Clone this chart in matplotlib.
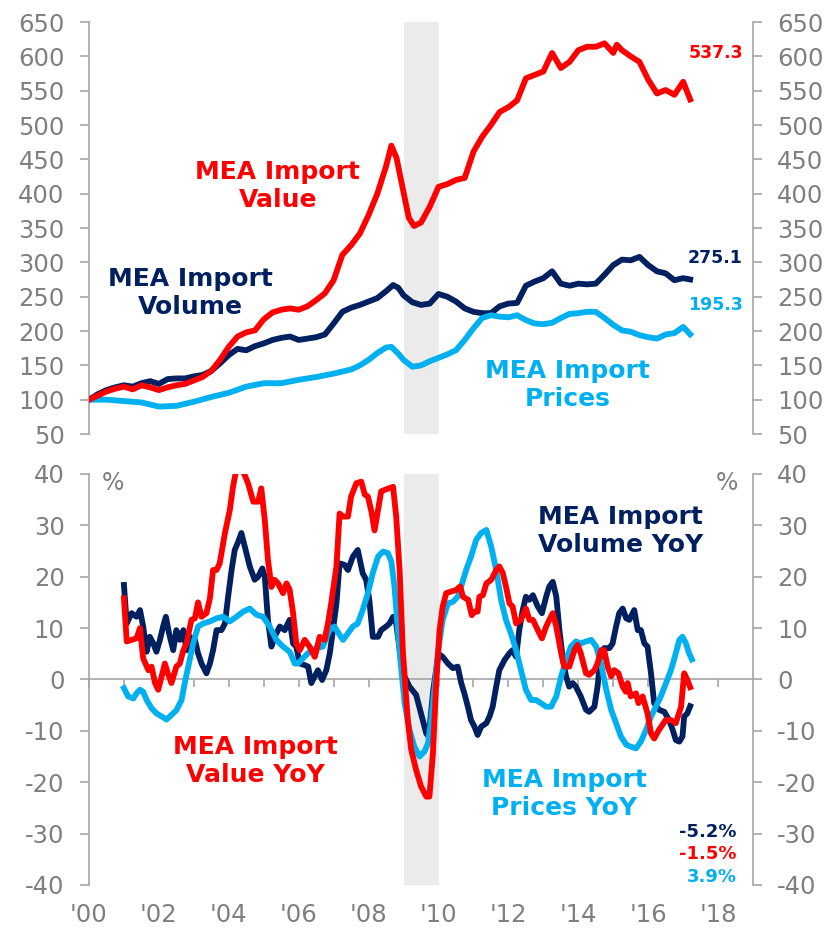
import matplotlib
matplotlib.use("Agg")
import matplotlib.pyplot as plt

plt.rcParams["axes.unicode_minus"] = False

RED = "#FF0000"
NAVY = "#002060"
SKY = "#00B0F0"
GREY = "#7F7F7F"
LINE_GREY = "#A6A6A6"

# index levels (2000 = 100)
t_value = [2000.0, 2000.25, 2000.5, 2000.75, 2001.0, 2001.25, 2001.5, 2001.75, 2002.0, 2002.25,
           2002.5, 2002.75, 2003.0, 2003.25, 2003.5, 2003.75, 2004.0, 2004.25, 2004.5, 2004.75,
           2005.0, 2005.25, 2005.5, 2005.75, 2006.0, 2006.25, 2006.5, 2006.75, 2007.0, 2007.25,
           2007.5, 2007.75, 2008.0, 2008.25, 2008.5, 2008.65, 2008.8, 2009.0, 2009.15, 2009.3,
           2009.5, 2009.75, 2010.0, 2010.25, 2010.5, 2010.75, 2011.0, 2011.25, 2011.5, 2011.75,
           2012.0, 2012.25, 2012.5, 2012.75, 2013.0, 2013.25, 2013.5, 2013.75, 2014.0, 2014.25,
           2014.5, 2014.75, 2015.0, 2015.1, 2015.25, 2015.5, 2015.75, 2016.0, 2016.25, 2016.5,
           2016.75, 2017.0, 2017.2]
value = [100, 106, 112, 116, 119, 115, 121, 118, 114, 118,
         121, 123, 128, 133, 142, 158, 177, 192, 198, 201,
         217, 227, 231, 233, 231, 236, 245, 255, 274, 311,
         325, 342, 369, 400, 440, 470, 452, 402, 365, 353,
         358, 381, 410, 414, 420, 423, 461, 483, 500, 519,
         526, 536, 568, 573, 578, 605, 583, 592, 609, 614,
         614, 619, 605, 617, 609, 600, 592, 566, 546, 551,
         544, 563, 537.3]

t_volume = [2000.0, 2000.25, 2000.5, 2000.75, 2001.0, 2001.25, 2001.5, 2001.75, 2002.0, 2002.25,
            2002.5, 2002.75, 2003.0, 2003.25, 2003.5, 2003.75, 2004.0, 2004.25, 2004.5, 2004.75,
            2005.0, 2005.25, 2005.5, 2005.75, 2006.0, 2006.25, 2006.5, 2006.75, 2007.0, 2007.25,
            2007.5, 2007.75, 2008.0, 2008.25, 2008.5, 2008.7, 2008.85, 2009.0, 2009.25, 2009.5,
            2009.75, 2010.0, 2010.25, 2010.5, 2010.75, 2011.0, 2011.25, 2011.5, 2011.75, 2012.0,
            2012.25, 2012.5, 2012.75, 2013.0, 2013.25, 2013.5, 2013.75, 2014.0, 2014.25, 2014.5,
            2014.75, 2015.0, 2015.25, 2015.5, 2015.75, 2016.0, 2016.25, 2016.5, 2016.75, 2017.0,
            2017.2]
volume = [100, 108, 114, 118, 121, 119, 124, 127, 123, 130,
          131, 131, 134, 136, 142, 153, 165, 174, 172, 178,
          182, 187, 190, 192, 187, 189, 191, 195, 211, 228,
          234, 238, 243, 248, 258, 267, 263, 252, 242, 238,
          240, 254, 250, 243, 233, 228, 226, 226, 236, 240,
          241, 266, 272, 277, 287, 269, 266, 269, 268, 269,
          282, 296, 304, 303, 308, 296, 287, 284, 274, 277,
          275.1]

t_prices = [2000.0, 2000.5, 2001.0, 2001.5, 2002.0, 2002.5, 2003.0, 2003.5, 2004.0, 2004.5,
            2005.0, 2005.5, 2006.0, 2006.5, 2007.0, 2007.5, 2007.75, 2008.0, 2008.25, 2008.5,
            2008.65, 2008.85, 2009.0, 2009.25, 2009.5, 2009.75, 2010.0, 2010.25, 2010.5, 2010.75,
            2011.0, 2011.25, 2011.5, 2011.75, 2012.0, 2012.25, 2012.5, 2012.75, 2013.0, 2013.25,
            2013.5, 2013.75, 2014.0, 2014.25, 2014.5, 2014.75, 2015.0, 2015.25, 2015.5, 2015.75,
            2016.0, 2016.25, 2016.5, 2016.75, 2017.0, 2017.2]
prices = [100, 100, 98, 96, 90, 91, 97, 104, 110, 119,
          124, 124, 129, 133, 138, 144, 150, 158, 168, 176,
          177, 167, 158, 148, 150, 156, 161, 166, 172, 187,
          204, 219, 223, 221, 220, 223, 216, 211, 210, 212,
          219, 225, 226, 228, 228, 219, 209, 201, 199, 194,
          191, 189, 195, 197, 206, 195.3]

# year-on-year changes, %
t_value_yoy = [2001.0, 2001.08, 2001.36, 2001.46, 2001.55, 2001.7, 2001.79, 2001.89, 2001.98, 2002.08,
               2002.17, 2002.27, 2002.36, 2002.5, 2002.6, 2002.7, 2002.79, 2002.93, 2003.03, 2003.12,
               2003.22, 2003.36, 2003.46, 2003.55, 2003.65, 2003.74, 2003.89, 2004.03, 2004.12, 2004.22,
               2004.31, 2004.41, 2004.55, 2004.7, 2004.84, 2004.93, 2005.03, 2005.12, 2005.22, 2005.31,
               2005.41, 2005.55, 2005.65, 2005.74, 2005.84, 2005.93, 2006.03, 2006.17, 2006.31, 2006.46,
               2006.6, 2006.74, 2006.84, 2006.93, 2007.08, 2007.17, 2007.27, 2007.41, 2007.5, 2007.65,
               2007.79, 2007.89, 2007.98, 2008.08, 2008.17, 2008.27, 2008.36, 2008.5, 2008.7, 2008.79,
               2008.89, 2008.98, 2009.12, 2009.22, 2009.36, 2009.5, 2009.65, 2009.74, 2009.84, 2009.93,
               2010.03, 2010.12, 2010.22, 2010.36, 2010.5, 2010.62, 2010.7, 2010.85, 2010.95, 2011.03,
               2011.12, 2011.17, 2011.27, 2011.37, 2011.51, 2011.65, 2011.74, 2011.84, 2011.93, 2012.03,
               2012.12, 2012.22, 2012.36, 2012.5, 2012.6, 2012.7, 2012.84, 2012.96, 2013.08, 2013.17,
               2013.27, 2013.37, 2013.51, 2013.6, 2013.74, 2013.89, 2013.98, 2014.07, 2014.22, 2014.31,
               2014.46, 2014.55, 2014.65, 2014.74, 2014.84, 2014.94, 2015.03, 2015.15, 2015.27, 2015.36,
               2015.41, 2015.5, 2015.65, 2015.72, 2015.84, 2015.98, 2016.08, 2016.17, 2016.31, 2016.5,
               2016.65, 2016.79, 2016.94, 2017.03, 2017.12, 2017.2]
value_yoy = [15.8, 7.4, 8.0, 10.0, 4.1, 1.8, 2.5, -0.7, -2.0, 0.6,
             3.1, 0.9, -0.7, 2.5, 3.1, 5.7, 7.0, 11.6, 11.9, 15.0,
             12.2, 12.9, 15.8, 21.3, 21.3, 22.6, 28.5, 33.0, 37.5, 41.0,
             43.0, 40.5, 38.2, 34.6, 34.6, 37.2, 31.0, 23.3, 18.0, 19.4,
             18.7, 16.8, 18.7, 17.5, 12.9, 7.0, 5.7, 7.7, 6.4, 4.4,
             8.3, 7.7, 11.0, 14.8, 22.0, 32.3, 31.7, 31.7, 35.6, 38.2,
             38.5, 36.0, 35.6, 32.7, 29.0, 33.0, 36.6, 37.0, 37.5, 31.7,
             21.0, 5.5, -7.9, -13.7, -17.6, -20.8, -22.8, -22.8, -14.4, -1.4,
             9.6, 14.2, 16.8, 17.1, 17.4, 18.1, 16.1, 15.5, 12.5, 13.2,
             13.2, 16.1, 16.4, 18.7, 19.4, 21.3, 22.0, 20.7, 18.1, 14.8,
             14.2, 10.9, 11.6, 13.8, 11.6, 11.6, 9.6, 8.0, 10.3, 11.6,
             12.9, 10.3, 5.1, 2.5, 2.5, 5.7, 6.7, 5.1, 1.2, 0.9,
             1.8, 3.1, 5.7, 5.7, 2.5, 0.6, 1.8, 1.2, -1.4, -2.4,
             -0.7, -3.3, -2.7, -4.6, -3.3, -6.6, -10.5, -11.5, -9.8, -7.9,
             -7.9, -8.5, -5.3, 1.2, -0.1, -1.5]

t_volume_yoy = [2001.0, 2001.08, 2001.22, 2001.36, 2001.46, 2001.55, 2001.65, 2001.74, 2001.84, 2001.93,
                2002.03, 2002.12, 2002.2, 2002.29, 2002.41, 2002.5, 2002.6, 2002.7, 2002.79, 2002.89,
                2003.03, 2003.12, 2003.22, 2003.36, 2003.46, 2003.55, 2003.65, 2003.79, 2003.89, 2003.98,
                2004.08, 2004.17, 2004.27, 2004.36, 2004.46, 2004.6, 2004.74, 2004.84, 2004.96, 2005.03,
                2005.12, 2005.22, 2005.31, 2005.46, 2005.6, 2005.74, 2005.84, 2005.93, 2006.03, 2006.17,
                2006.27, 2006.36, 2006.46, 2006.55, 2006.67, 2006.79, 2006.89, 2006.98, 2007.08, 2007.17,
                2007.31, 2007.41, 2007.55, 2007.69, 2007.83, 2007.93, 2008.02, 2008.12, 2008.27, 2008.36,
                2008.5, 2008.6, 2008.7, 2008.79, 2008.98, 2009.17, 2009.36, 2009.5, 2009.65, 2009.72,
                2009.85, 2010.0, 2010.12, 2010.27, 2010.41, 2010.55, 2010.65, 2010.74, 2010.84, 2010.93,
                2011.03, 2011.12, 2011.22, 2011.37, 2011.46, 2011.55, 2011.65, 2011.74, 2011.89, 2012.03,
                2012.12, 2012.22, 2012.31, 2012.41, 2012.5, 2012.6, 2012.7, 2012.84, 2012.96, 2013.08,
                2013.17, 2013.27, 2013.37, 2013.46, 2013.56, 2013.65, 2013.74, 2013.84, 2013.93, 2014.07,
                2014.22, 2014.31, 2014.46, 2014.55, 2014.65, 2014.74, 2014.89, 2014.98, 2015.08, 2015.17,
                2015.27, 2015.37, 2015.46, 2015.6, 2015.7, 2015.79, 2015.89, 2015.98, 2016.08, 2016.17,
                2016.31, 2016.46, 2016.6, 2016.7, 2016.79, 2016.89, 2016.98, 2017.03, 2017.12, 2017.2]
volume_yoy = [18.4, 10.9, 12.9, 12.2, 13.5, 10.3, 5.4, 8.3, 7.0, 5.4,
              7.7, 10.3, 12.2, 9.0, 5.7, 9.6, 7.7, 9.6, 5.7, 8.3,
              7.7, 5.1, 3.1, 1.2, 3.1, 5.7, 9.6, 9.6, 10.9, 16.1,
              21.3, 25.2, 26.8, 28.5, 25.8, 22.0, 19.4, 20.0, 21.6, 20.0,
              11.6, 6.4, 8.3, 10.3, 9.6, 11.6, 7.0, 6.4, 3.1, 2.8,
              2.5, -0.7, 0.6, 1.8, -0.1, 1.8, 5.1, 9.6, 14.8, 22.6,
              22.3, 21.3, 23.9, 25.2, 20.7, 19.4, 15.5, 8.3, 8.3, 9.6,
              10.3, 10.9, 12.2, 10.9, 1.2, -1.4, -3.0, -6.6, -10.5, -11.1,
              -2.0, 5.0, 4.4, 3.1, 2.2, 2.5, -0.7, -2.7, -5.3, -7.9,
              -9.2, -10.8, -9.2, -8.5, -7.2, -5.3, -1.4, 1.8, 3.8, 5.1,
              5.7, 4.4, 9.6, 13.5, 16.1, 15.5, 16.4, 14.2, 12.9, 16.1,
              18.1, 19.0, 16.1, 9.6, 3.8, 0.6, -1.4, -0.7, -1.4, -3.3,
              -5.9, -6.3, -5.3, -1.4, 5.1, 6.1, 6.1, 7.0, 10.3, 12.9,
              13.8, 11.9, 11.6, 13.5, 9.6, 9.6, 7.0, 6.4, 1.2, -4.6,
              -5.9, -6.3, -7.9, -9.8, -11.8, -12.1, -11.1, -7.2, -6.6, -5.2]

t_prices_yoy = [2001.0, 2001.12, 2001.27, 2001.36, 2001.46, 2001.55, 2001.65, 2001.79, 2001.93, 2002.08,
                2002.22, 2002.36, 2002.5, 2002.65, 2002.74, 2002.84, 2002.98, 2003.12, 2003.27, 2003.46,
                2003.65, 2003.84, 2004.03, 2004.22, 2004.41, 2004.6, 2004.79, 2004.98, 2005.17, 2005.36,
                2005.55, 2005.74, 2005.89, 2005.98, 2006.12, 2006.31, 2006.5, 2006.69, 2006.88, 2007.02,
                2007.17, 2007.27, 2007.41, 2007.55, 2007.69, 2007.83, 2007.98, 2008.12, 2008.27, 2008.41,
                2008.55, 2008.65, 2008.74, 2008.89, 2009.03, 2009.17, 2009.31, 2009.46, 2009.6, 2009.7,
                2009.79, 2009.89, 2009.98, 2010.12, 2010.27, 2010.41, 2010.55, 2010.65, 2010.79, 2010.93,
                2011.08, 2011.22, 2011.37, 2011.51, 2011.65, 2011.79, 2011.93, 2012.07, 2012.22, 2012.36,
                2012.5, 2012.65, 2012.79, 2012.93, 2013.08, 2013.22, 2013.37, 2013.51, 2013.65, 2013.79,
                2013.93, 2014.07, 2014.22, 2014.37, 2014.51, 2014.65, 2014.8, 2014.94, 2015.08, 2015.22,
                2015.37, 2015.51, 2015.65, 2015.79, 2015.94, 2016.08, 2016.22, 2016.36, 2016.51, 2016.65,
                2016.79, 2016.89, 2016.98, 2017.08, 2017.17, 2017.25]
prices_yoy = [-1.7, -3.3, -3.7, -2.7, -2.0, -2.4, -4.0, -5.6, -6.6, -7.2,
              -7.8, -6.9, -6.0, -4.0, -0.7, 2.5, 7.0, 10.3, 10.9, 11.3,
              11.9, 12.2, 11.3, 12.2, 13.2, 13.8, 12.6, 12.2, 10.3, 7.7,
              6.4, 5.4, 3.1, 3.1, 4.1, 5.4, 6.1, 6.4, 9.6, 10.3,
              8.7, 7.7, 9.0, 10.3, 10.9, 13.5, 16.8, 20.7, 23.9, 24.9,
              24.6, 23.0, 18.1, 5.1, -4.6, -9.8, -13.1, -15.0, -14.0, -12.4,
              -7.9, -1.4, 5.1, 11.6, 14.8, 15.1, 16.1, 18.1, 21.3, 23.9,
              27.2, 28.5, 29.1, 25.8, 21.3, 15.5, 11.6, 9.0, 5.7, 1.8,
              -2.0, -4.0, -4.0, -4.6, -5.3, -5.3, -3.3, 0.6, 3.8, 6.4,
              7.4, 7.0, 7.4, 7.7, 6.4, 3.1, -2.0, -5.9, -8.5, -11.1,
              -12.7, -13.1, -13.4, -12.1, -9.8, -7.2, -5.3, -3.3, -0.7, 1.8,
              5.1, 7.7, 8.3, 7.0, 5.1, 3.9]

year_ticks = list(range(2000, 2019))
year_labels = ["'00", "'02", "'04", "'06", "'08", "'10", "'12", "'14", "'16", "'18"]
recession = (2009.0, 2010.0)

fig = plt.figure(figsize=(8.27, 9.30), dpi=100)
ax1 = fig.add_axes([0.1076, 0.5333, 0.803, 0.443])
ax2 = fig.add_axes([0.1076, 0.0484, 0.803, 0.442])

lw = 4.2
for ax in (ax1, ax2):
    ax.set_xlim(2000, 2019)
    ax.axvspan(recession[0], recession[1], color="#EBEBEB", lw=0, zorder=0)
    ax.spines["top"].set_visible(False)
    for side in ("left", "right"):
        ax.spines[side].set_color(LINE_GREY)
        ax.spines[side].set_linewidth(1.2)
    ax.tick_params(axis="y", which="both", left=True, right=True, labelleft=True,
                   labelright=True, direction="out", length=6.5, width=1.2,
                   color=LINE_GREY, labelcolor=GREY, labelsize=17.5, pad=11)

# top panel
ax1.plot(t_volume, volume, color=NAVY, lw=lw, solid_joinstyle="round", zorder=3)
ax1.plot(t_prices, prices, color=SKY, lw=lw, solid_joinstyle="round", zorder=4)
ax1.plot(t_value, value, color=RED, lw=lw, solid_joinstyle="round", zorder=5)
ax1.set_ylim(50, 650)
ax1.set_yticks(range(50, 651, 50))
ax1.spines["bottom"].set_visible(False)
ax1.set_xticks([])

bold = dict(fontsize=18, fontweight="bold", ha="center", va="center", linespacing=1.2)
ax1.text(2005.4, 411, "MEA Import\nValue", color=RED, **bold)
ax1.text(2002.9, 255, "MEA Import\nVolume", color=NAVY, **bold)
ax1.text(2013.7, 121, "MEA Import\nPrices", color=SKY, **bold)
last = dict(fontsize=12.5, fontweight="bold", ha="right", va="center")
ax1.text(2018.71, 605, "%.1f" % value[-1], color=RED, **last)
ax1.text(2018.71, 306, "%.1f" % volume[-1], color=NAVY, **last)
ax1.text(2018.71, 238, "%.1f" % prices[-1], color=SKY, **last)

# bottom panel
ax2.plot(t_volume_yoy, volume_yoy, color=NAVY, lw=lw, solid_joinstyle="round", zorder=3)
ax2.plot(t_prices_yoy, prices_yoy, color=SKY, lw=lw, solid_joinstyle="round", zorder=4)
ax2.plot(t_value_yoy, value_yoy, color=RED, lw=lw, solid_joinstyle="round", zorder=5)
ax2.set_ylim(-40, 40)
ax2.set_yticks(range(-40, 41, 10))
ax2.spines["bottom"].set_position(("data", 0))
ax2.spines["bottom"].set_color(LINE_GREY)
ax2.spines["bottom"].set_linewidth(1.2)
ax2.spines["bottom"].set_zorder(1)
ax2.set_xticks(year_ticks)
ax2.tick_params(axis="x", direction="out", length=6, width=1.2, color=LINE_GREY,
                labelbottom=False)
for yr, lab in zip(range(2000, 2019, 2), year_labels):
    ax2.text(yr, -45.8, lab, color=GREY, fontsize=17.5, ha="center", va="center",
             clip_on=False)

ax2.text(2000.69, 38.2, "%", color=GREY, fontsize=17, ha="center", va="center")
ax2.text(2018.26, 38.2, "%", color=GREY, fontsize=17, ha="center", va="center")
ax2.text(2004.77, -15.9, "MEA Import\nValue YoY", color=RED, **bold)
ax2.text(2015.2, 28.9, "MEA Import\nVolume YoY", color=NAVY, **bold)
ax2.text(2013.6, -22.3, "MEA Import\nPrices YoY", color=SKY, **bold)
last2 = dict(fontsize=13, fontweight="bold", ha="right", va="center")
ax2.text(2018.54, -29.7, "%.1f%%" % volume_yoy[-1], color=NAVY, **last2)
ax2.text(2018.54, -34.0, "%.1f%%" % value_yoy[-1], color=RED, **last2)
ax2.text(2018.54, -38.4, "%.1f%%" % prices_yoy[-1], color=SKY, **last2)

fig.savefig("out.png", dpi=100)
